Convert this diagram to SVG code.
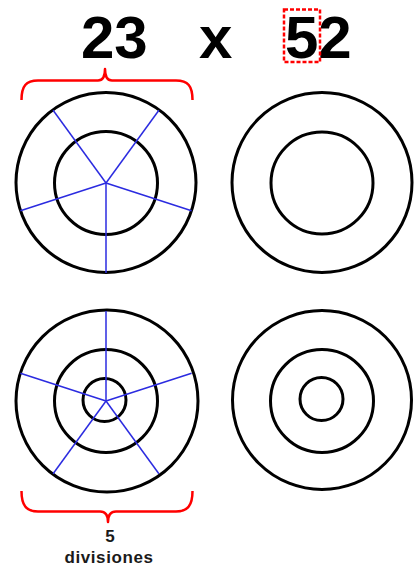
<svg xmlns="http://www.w3.org/2000/svg" width="414" height="568" viewBox="0 0 414 568">
<style>
.ring{fill:none;stroke:#000;stroke-width:3}
.spoke{stroke:#2b2be0;stroke-width:1.5;fill:none}
.brace{fill:none;stroke:#ff0000;stroke-width:2.5;stroke-linejoin:round}
.big{font-family:"Liberation Sans",Arial,sans-serif;font-weight:bold;font-size:60px;fill:#000}
.small{font-family:"Liberation Sans",Arial,sans-serif;font-weight:bold;font-size:17px;fill:#1a1a1a;text-anchor:middle}
</style>
<rect width="414" height="568" fill="#fff"/>
<g id="title">
<text class="big" x="81" y="58">23</text>
<text class="big" x="199" y="58">x</text>
<text class="big" x="285" y="58">52</text>
<rect x="284" y="9.5" width="36" height="52.5" fill="none" stroke="#ff0000" stroke-width="2.5" stroke-dasharray="4 2"/>
</g>
<g id="brace-top">
<path class="brace" d="M21.5,100 C21.5,86 26,80.5 38,80.5 L98,80.5 C103,80.5 105,77 105,69 C105,77 107,80.5 112,80.5 L176,80.5 C188,80.5 192.5,86 192.5,100"/>
</g>
<g id="circle-tl">
<circle class="ring" cx="106" cy="182.5" r="90"/>
<circle class="ring" cx="106" cy="183" r="51.5"/>
<g class="spoke">
<line x1="106" y1="183" x2="106" y2="273"/>
<line x1="106" y1="183" x2="20.4" y2="210.8"/>
<line x1="106" y1="183" x2="53.1" y2="110.2"/>
<line x1="106" y1="183" x2="158.9" y2="110.2"/>
<line x1="106" y1="183" x2="191.6" y2="210.8"/>
</g>
</g>
<g id="circle-tr">
<circle class="ring" cx="322" cy="182.5" r="90"/>
<circle class="ring" cx="322" cy="183" r="51"/>
</g>
<g id="circle-bl">
<circle class="ring" cx="107" cy="401" r="91"/>
<circle class="ring" cx="106" cy="401" r="51.5"/>
<circle class="ring" cx="104.5" cy="400" r="21.5"/>
<g class="spoke">
<line x1="106" y1="401" x2="106" y2="311"/>
<line x1="106" y1="401" x2="191.6" y2="373.2"/>
<line x1="106" y1="401" x2="158.9" y2="473.8"/>
<line x1="106" y1="401" x2="53.1" y2="473.8"/>
<line x1="106" y1="401" x2="20.4" y2="373.2"/>
</g>
</g>
<g id="circle-br">
<circle class="ring" cx="322" cy="400" r="89.5"/>
<circle class="ring" cx="322" cy="401" r="51.5"/>
<circle class="ring" cx="321.5" cy="399" r="21.5"/>
</g>
<g id="brace-bottom">
<path class="brace" d="M21.5,491 C21.5,505 26,511.5 38,511.5 L100,511.5 C105,511.5 108,515 108,522 C108,515 111,511.5 116,511.5 L176,511.5 C188,511.5 192.5,505 192.5,491"/>
</g>
<g id="label">
<text class="small" x="110" y="542">5</text>
<text class="small" x="109" y="563" letter-spacing="0.6">divisiones</text>
</g>
</svg>
